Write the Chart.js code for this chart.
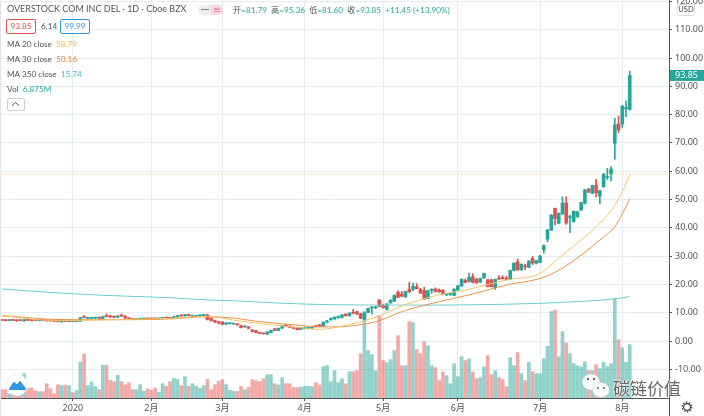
<!DOCTYPE html>
<html>
<head>
<meta charset="utf-8">
<script src="https://cdn.jsdelivr.net/npm/chart.js@4"></script>
<style>
  html, body { margin: 0; padding: 0; background: #fff; overflow: hidden; }
  #wrap { position: relative; width: 704px; height: 416px; font-family: Lato, 'Noto Sans CJK SC', sans-serif; color: #555; }
  #chart { position: absolute; left: 0; top: 0; }
  .t { position: absolute; font-size: 8.2px; line-height: 12px; white-space: nowrap; }
  .box { position: absolute; height: 13px; line-height: 13px; font-size: 8.2px; text-align: center; border-radius: 2px; background: #fff; }
  .up { color: #26a69a; }
</style>
</head>
<body>
<div id="wrap">
  <canvas id="chart" width="704" height="416"></canvas>

  <div class="t" style="left:7px;top:3px;font-size:9px">OVERSTOCK COM INC DEL · 1D · Cboe BZX</div>
  <div style="position:absolute;left:198px;top:5px;width:25px;height:10px;border-radius:5px;background:#eceef1"></div>
  <div style="position:absolute;left:211px;top:5px;width:12px;height:10px;border-radius:0 5px 5px 0;background:#fbd5e0"></div>
  <div class="t" style="left:201px;top:4px;font-size:8px;color:#777">━</div>
  <div class="t" style="left:213px;top:4px;font-size:8px;color:#e0457b">≃</div>
  <div class="t" style="left:233px;top:4px">开<span class="up">=81.79</span>&nbsp; 高<span class="up">=95.36</span>&nbsp; 低<span class="up">=81.60</span>&nbsp; 收<span class="up">=93.85</span>&nbsp; <span class="up">+11.45 (+13.90%)</span></div>

  <div class="box" style="left:6px;top:19px;width:28px;border:1px solid #d9534f;color:#d9534f">93.85</div>
  <div class="t" style="left:41px;top:20px">6.14</div>
  <div class="box" style="left:60px;top:19px;width:28px;border:1px solid #2f96e0;color:#2f96e0">99.99</div>

  <div class="t" style="left:7px;top:38px">MA 20 close &nbsp;<span style="color:#f2b84b">58.79</span></div>
  <div class="t" style="left:7px;top:53px">MA 30 close &nbsp;<span style="color:#e8822a">50.16</span></div>
  <div class="t" style="left:7px;top:68px">MA 350 close &nbsp;<span style="color:#3fb8cf">15.74</span></div>
  <div class="t" style="left:7px;top:83px">Vol &nbsp;<span class="up">6.875M</span></div>
  <div style="position:absolute;left:7px;top:98px;width:16px;height:11px;border:1px solid #ccd;border-radius:2px;background:#fff"></div>
  <svg style="position:absolute;left:11px;top:101px" width="9" height="6"><path d="M1 4.5 L4.5 1.5 L8 4.5" fill="none" stroke="#555" stroke-width="1"/></svg>

  <div style="position:absolute;left:0;top:0;width:1px;height:416px;background:#e0e3e8"></div>
  <div style="position:absolute;left:669px;top:0;width:1px;height:416px;background:#555"></div>

  <div class="box" style="left:677px;top:4px;width:16px;height:10px;line-height:10px;font-size:7.5px;border:1px solid #dde;color:#444">USD</div>

  <svg style="position:absolute;left:681px;top:401px" width="12" height="12">
    <circle cx="6" cy="6" r="3.4" fill="none" stroke="#444" stroke-width="1.2"/>
    <circle cx="6" cy="6" r="4.8" fill="none" stroke="#444" stroke-width="1.2" stroke-dasharray="1.5 1.5"/>
  </svg>

  <svg style="position:absolute;left:5px;top:373px" width="24" height="24">
    <circle cx="12" cy="12" r="10.5" fill="#fff" stroke="#eef0f3"/>
    <path d="M5 16 L9 10 L12 13 L15 9 L20 16 Z" fill="#2f96e0" stroke="#2f96e0" stroke-linejoin="round" stroke-width="2"/>
  </svg>

  <svg style="position:absolute;left:581px;top:372px" width="30" height="28">
    <ellipse cx="10" cy="10" rx="9" ry="8" fill="#fff" fill-opacity=".92" stroke="#bbb" stroke-width=".5"/>
    <ellipse cx="20" cy="18" rx="8.5" ry="7.5" fill="#fff" fill-opacity=".95" stroke="#bbb" stroke-width=".5"/>
    <circle cx="7" cy="7" r="1.2" fill="#666"/><circle cx="13" cy="7" r="1.2" fill="#666"/>
    <circle cx="17" cy="16" r="1" fill="#666"/><circle cx="23" cy="16" r="1" fill="#666"/>
  </svg>
  <div class="t" style="left:613px;top:379px;font-size:17px;line-height:18px;font-family:'Noto Sans CJK SC';color:#666;text-shadow:0 0 2px #fff,0 0 2px #fff">碳链价值</div>
</div>

<script>
// trading days shown on the category axis, ten empty days after the last candle
const dates = [
  '12-04','12-05','12-06','12-09','12-10','12-11','12-12','12-13','12-16','12-17','12-18','12-19','12-20','12-23','12-24','12-26','12-27','12-30','12-31',
  '01-02','01-03','01-06','01-07','01-08','01-09','01-10','01-13','01-14','01-15','01-16','01-17','01-21','01-22','01-23','01-24','01-27','01-28','01-29','01-30','01-31',
  '02-03','02-04','02-05','02-06','02-07','02-10','02-11','02-12','02-13','02-14','02-18','02-19','02-20','02-21','02-24','02-25','02-26','02-27','02-28',
  '03-02','03-03','03-04','03-05','03-06','03-09','03-10','03-11','03-12','03-13','03-16','03-17','03-18','03-19','03-20','03-23','03-24','03-25','03-26','03-27','03-30','03-31',
  '04-01','04-02','04-03','04-06','04-07','04-08','04-09','04-13','04-14','04-15','04-16','04-17','04-20','04-21','04-22','04-23','04-24','04-27','04-28','04-29','04-30',
  '05-01','05-04','05-05','05-06','05-07','05-08','05-11','05-12','05-13','05-14','05-15','05-18','05-19','05-20','05-21','05-22','05-26','05-27','05-28','05-29',
  '06-01','06-02','06-03','06-04','06-05','06-08','06-09','06-10','06-11','06-12','06-15','06-16','06-17','06-18','06-19','06-22','06-23','06-24','06-25','06-26','06-29','06-30',
  '07-01','07-02','07-06','07-07','07-08','07-09','07-10','07-13','07-14','07-15','07-16','07-17','07-20','07-21','07-22','07-23','07-24','07-27','07-28','07-29','07-30','07-31',
  '08-03','08-04','08-05','08-06','08-07','08-10','08-11','08-12','08-13','08-14','08-17','08-18','08-19'
];
const tickDates  = ['01-02', '02-03', '03-02', '04-01', '05-01', '06-01', '07-01', '08-03'];
const tickLabels = ['2020', '2月', '3月', '4月', '5月', '6月', '7月', '8月'];

const opens = [
  7.5,7.4,7.2,7.5,7.4,7.3,7.1,7.5,7.4,7.5,
  7.2,7.5,7.4,7.2,7.2,7.1,6.8,7.1,6.9,7.1,
  6.9,7.0,8.5,8.0,8.0,8.1,8.3,8.0,8.9,8.7,
  8.6,8.4,9.0,8.7,8.1,7.8,7.6,7.7,7.8,8.0,
  7.9,7.9,7.8,7.9,8.3,8.2,8.2,8.5,9.0,8.9,
  9.1,8.7,8.7,8.9,9.0,9.2,8.0,7.2,6.8,6.7,
  6.0,6.1,6.0,6.0,5.5,5.0,5.0,3.9,3.7,2.9,
  2.7,2.4,3.0,4.3,3.7,4.6,5.6,5.2,4.8,4.6,
  4.1,4.4,4.5,4.5,5.4,5.7,5.3,6.7,7.6,7.8,
  8.3,8.4,9.5,8.9,10.0,10.4,9.5,7.6,10.1,11.7,
  11.7,14.5,12.5,11.2,13.5,14.1,17.2,16.6,15.6,18.2,
  18.2,19.2,18.2,17.8,15.0,17.9,18.4,18.0,17.8,16.3,
  16.4,16.1,18.0,19.5,21.5,21.0,22.7,21.8,20.9,22.3,
  21.6,21.6,18.8,22.3,22.4,22.2,21.8,24.9,28.0,25.1,
  26.5,26.0,29.2,27.5,27.8,32.2,36.0,39.2,46.9,41.6,
  44.9,48.8,43.6,42.2,43.9,46.3,48.7,53.7,52.2,55.1,
  51.2,54.5,57.8,59.0,69.9,76.7,76.7,82.1,81.79
];
const highs = [
  7.7,7.6,7.6,7.7,7.5,7.5,7.7,7.7,7.5,7.6,
  7.5,7.6,7.6,7.4,7.3,7.3,7.2,7.3,7.3,7.3,
  7.3,8.3,9.0,8.3,8.3,8.4,8.5,8.7,9.6,9.2,
  8.9,9.0,9.6,9.0,8.3,8.0,8.0,8.1,8.1,8.1,
  8.1,8.2,8.2,8.4,8.5,8.4,8.8,9.2,9.4,9.4,
  9.5,9.2,9.1,9.2,9.5,9.5,8.2,7.4,7.0,6.9,
  6.5,6.5,6.3,6.2,5.6,5.3,5.1,4.1,3.8,3.0,
  2.8,3.3,3.9,4.5,4.6,5.5,5.9,5.4,5.0,4.7,
  4.8,5.0,4.8,4.9,5.6,5.9,6.8,7.3,8.2,8.6,
  8.9,9.4,9.7,9.9,11.2,10.6,9.8,10.0,11.6,12.1,
  12.2,14.7,13.0,13.2,14.6,16.3,17.7,17.5,17.6,20.7,
  20.4,20.3,18.6,19.0,17.9,18.5,18.8,18.4,18.2,16.8,
  16.9,18.5,19.7,22.0,21.9,24.0,23.8,22.2,22.3,24.0,
  21.9,21.9,21.9,23.0,23.1,22.9,25.0,27.6,29.0,27.3,
  27.2,28.4,29.9,28.6,30.3,34.0,39.4,44.7,47.0,45.3,
  50.9,51.0,44.5,45.9,45.9,49.1,53.6,53.9,55.1,57.1,
  53.3,59.2,61.0,61.6,78.7,79.5,83.3,84.9,95.36
];
const lows = [
  7.2,7.1,7.1,7.2,7.0,7.1,7.0,7.2,7.1,7.2,
  7.1,7.2,7.0,7.0,6.9,6.7,6.6,6.8,6.8,6.8,
  6.8,6.9,8.2,7.8,7.9,7.9,7.9,7.9,8.5,8.3,
  8.3,8.3,8.7,8.0,7.7,7.5,7.5,7.6,7.6,7.7,
  7.7,7.7,7.7,7.8,8.0,7.9,8.1,8.4,8.7,8.8,
  8.9,8.6,8.6,8.8,8.9,7.4,7.0,6.5,6.1,5.7,
  5.8,6.0,5.9,5.6,4.6,4.8,4.3,3.2,2.9,2.6,
  2.4,2.3,2.9,3.6,3.6,4.4,5.0,4.7,4.3,3.9,
  4.0,4.3,4.2,4.3,4.9,5.0,5.2,6.5,7.3,7.6,
  8.0,8.2,8.8,8.8,9.6,9.4,7.9,7.3,9.9,9.5,
  11.4,12.1,11.6,10.9,13.3,13.9,15.3,15.6,15.4,17.2,
  17.8,18.4,16.7,14.7,14.9,16.8,17.3,17.2,16.5,16.0,
  16.1,15.9,17.9,19.3,20.6,20.8,20.5,20.3,20.7,22.1,
  19.1,19.1,18.2,21.8,21.9,21.5,21.6,24.8,25.0,25.0,
  25.2,25.9,27.0,27.2,27.6,31.0,35.1,39.0,41.0,41.4,
  44.7,41.2,38.3,42.0,43.7,46.1,48.4,52.4,52.0,51.0,
  48.4,54.3,57.1,56.6,64.2,73.6,75.5,79.3,81.60
];
const closes = [
  7.3,7.2,7.4,7.3,7.1,7.2,7.5,7.3,7.2,7.3,
  7.4,7.3,7.1,7.1,7.0,6.9,7.0,6.9,7.1,6.9,
  7.1,8.2,8.3,8.1,8.2,8.2,8.0,8.6,8.6,8.5,
  8.4,8.8,8.8,8.1,7.8,7.6,7.8,7.9,7.9,7.8,
  7.8,7.8,8.0,8.2,8.1,8.0,8.6,8.8,8.8,9.2,
  9.0,8.9,8.9,9.1,9.2,7.6,7.2,6.7,6.3,5.9,
  6.2,6.3,6.1,5.7,4.7,5.2,4.5,3.4,3.0,2.7,
  2.5,3.2,3.8,3.7,4.5,5.4,5.2,4.9,4.5,4.0,
  4.6,4.7,4.6,4.7,5.1,5.2,6.6,7.1,8.0,8.4,
  8.6,9.2,8.9,9.9,9.8,9.5,8.0,9.9,11.5,11.9,
  12.0,12.2,11.8,13.1,14.4,16.1,15.4,15.8,17.5,17.3,
  19.3,18.5,16.9,14.8,17.8,18.2,17.5,17.4,16.7,16.6,
  16.7,18.3,19.5,21.8,20.7,22.5,20.7,20.6,22.1,23.9,
  19.2,19.2,21.8,21.9,22.0,21.7,24.9,27.5,25.1,27.1,
  26.2,28.2,27.5,28.4,30.0,33.7,39.2,44.5,43.3,45.1,
  48.8,41.7,43.9,45.9,45.7,48.9,53.4,52.6,54.9,52.4,
  53.1,59.0,58.1,60.8,76.3,74.6,83.0,82.40,93.85
];
// volume in millions
const volumes = [
  1.08,1.08,0.52,0.65,0.86,1.08,3.14,1.25,1.29,0.95,
  0.82,0.82,1.85,1.20,0.56,1.72,1.59,1.68,1.59,0.69,
  0.95,4.64,5.68,1.59,2.06,1.46,1.08,4.21,4.21,2.28,
  2.11,2.92,2.11,1.68,1.98,1.08,1.08,1.72,0.86,1.20,
  0.99,1.29,0.73,1.85,1.51,2.11,2.54,2.41,1.59,2.75,
  1.51,1.85,1.51,1.25,1.59,2.41,1.08,1.72,2.15,2.37,
  1.72,0.99,0.86,0.86,1.51,1.08,1.38,2.37,2.24,2.11,
  2.49,3.01,3.01,1.85,1.68,2.62,1.85,1.85,1.38,1.33,
  1.38,1.51,1.51,1.46,1.98,1.68,4.04,4.17,2.11,3.53,
  1.98,2.49,1.85,3.40,3.40,3.53,5.72,11.18,6.11,5.59,
  3.53,10.62,4.82,4.56,4.95,6.11,8.04,4.17,4.17,9.85,
  9.72,6.24,5.72,7.27,6.75,4.17,3.91,2.24,3.35,2.88,
  1.85,4.43,2.75,5.33,4.82,5.03,3.35,2.49,2.62,4.00,
  5.46,3.01,3.53,2.62,2.37,1.46,5.20,4.17,5.85,3.14,
  2.24,4.60,3.40,3.14,3.14,5.07,6.67,11.14,11.31,5.33,
  8.56,7.10,5.72,4.43,4.17,4.00,4.69,3.53,3.53,4.30,
  3.78,4.60,4.04,4.43,12.77,7.53,6.45,4.60,6.875
];
// moving averages at these days
const maDates = ['12-04','12-26','01-17','02-10','02-25','03-05','03-13','03-23','03-31','04-07','04-15','04-22','04-29','05-11','05-22','06-05','06-18','07-01','07-09','07-17','07-24','07-30','08-03','08-05'];
const ma20  = [8.9,7.2,7.6,8.0,8.7,7.4,6.3,5.4,4.7,4.1,5.0,6.5,8.4,12.9,16.3,18.6,21.6,23.9,29.3,35.7,41.6,48.0,52.8,58.79];
const ma30  = [9.0,7.6,7.5,7.8,8.6,8.1,7.0,6.2,5.5,5.0,5.0,5.6,6.8,10.8,13.9,16.6,19.8,22.1,25.0,30.4,35.7,40.4,45.0,50.16];
const ma350 = [18.4,17.0,16.0,15.3,14.5,14.2,13.8,13.4,13.1,12.9,12.8,12.75,12.7,12.7,12.7,12.8,13.0,13.3,13.6,14.0,14.4,14.9,15.2,15.74];
const guideLevel = 59;

const UP = '#26a69a', DOWN = '#d9534f';
const UP_VOL = 'rgba(38,166,154,0.5)', DOWN_VOL = 'rgba(229,100,96,0.55)';
const isUp = closes.map((c, i) => c >= opens[i]);
const maLine = (vals, color) => ({
  type: 'line',
  data: vals.map((y, i) => ({ x: maDates[i], y })),
  borderColor: color,
  borderWidth: 1,
  pointRadius: 0,
  cubicInterpolationMode: 'monotone',
  order: 1,
});

// the teal box with the last price on the right axis
const priceTag = {
  id: 'priceTag',
  afterDraw(chart) {
    const { ctx, scales } = chart;
    const last = closes[closes.length - 1];
    const y = scales.y.getPixelForValue(last);
    ctx.save();
    ctx.fillStyle = UP;
    ctx.fillRect(670, y - 5.5, 34, 11);
    ctx.fillStyle = '#fff';
    ctx.font = "9px 'Noto Sans'";
    ctx.textBaseline = 'middle';
    ctx.fillText(last.toFixed(2), 675, y + 0.5);
    ctx.restore();
  },
};

new Chart(document.getElementById('chart').getContext('2d'), {
  type: 'bar',
  data: {
    labels: dates,
    datasets: [
      maLine(ma20, '#f5c46a'),
      maLine(ma30, '#ea9248'),
      maLine(ma350, '#6ccdd0'),
      {
        type: 'line',
        data: [{ x: dates[0], y: guideLevel }, { x: dates[dates.length - 1], y: guideLevel }],
        borderColor: '#f2bd5a',
        borderWidth: 1,
        borderDash: [1, 2],
        pointRadius: 0,
        order: 2,
      },
      {
        data: opens.map((o, i) => [o, closes[i]]),
        backgroundColor: isUp.map(u => u ? UP : DOWN),
        barThickness: 3,
        minBarLength: 1,
        grouped: false,
        order: 3,
      },
      {
        data: lows.map((l, i) => [l, highs[i]]),
        backgroundColor: isUp.map(u => u ? UP : DOWN),
        barThickness: 1,
        grouped: false,
        order: 4,
      },
      {
        data: volumes,
        yAxisID: 'vol',
        backgroundColor: isUp.map(u => u ? UP_VOL : DOWN_VOL),
        barThickness: 3,
        grouped: false,
        order: 5,
      },
    ],
  },
  options: {
    responsive: false,
    animation: false,
    events: [],
    layout: { padding: 0 },
    plugins: { legend: { display: false }, tooltip: { enabled: false } },
    scales: {
      x: {
        offset: true,
        grid: { color: '#e6edf1', offset: false, tickColor: '#555', tickLength: 3 },
        border: { color: '#555' },
        ticks: {
          autoSkip: false,
          maxRotation: 0,
          padding: 2,
          color: '#555',
          font: { size: 9, family: "'Noto Sans', 'Noto Sans CJK SC'" },
          callback(v, i) {
            const k = tickDates.indexOf(dates[i]);
            return k >= 0 ? tickLabels[k] : null;
          },
        },
        afterFit(s) { s.height = 18; s.paddingLeft = 0; s.paddingRight = 0; },
      },
      y: {
        position: 'right',
        min: -20.14,
        max: 120.5,
        grid: { color: '#e6edf1', tickColor: '#555', tickLength: 3 },
        border: { color: '#555' },
        ticks: {
          stepSize: 10,
          includeBounds: false,
          padding: 3,
          color: '#555',
          font: { size: 9, family: "'Noto Sans'" },
          callback: v => v < -10 ? null : v.toFixed(2),
        },
        afterFit(s) { s.width = 35; s.paddingTop = 0; s.paddingBottom = 0; },
      },
      vol: { display: false, min: 0, max: 51.3 },
    },
  },
  plugins: [priceTag],
});
</script>
</body>
</html>
